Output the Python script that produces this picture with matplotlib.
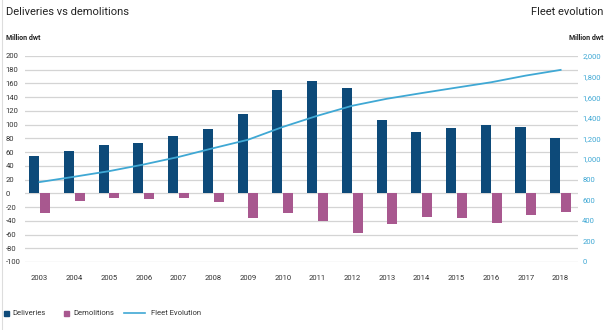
import matplotlib
matplotlib.use("Agg")
import matplotlib.pyplot as plt
import numpy as np

years = [str(y) for y in range(2003, 2019)]
deliveries = [55, 61, 71, 74, 83, 93, 116, 150, 163, 153, 107, 89, 95, 99, 97, 80]
demolitions = [-28, -11, -7, -8, -7, -12, -36, -28, -41, -58, -44, -34, -36, -43, -31, -27]
fleet = [776, 828, 882, 947, 1020, 1105, 1187, 1311, 1420, 1517, 1585, 1640, 1693, 1745, 1810, 1865]

left_ticks = list(range(-100, 201, 20))
right_ticks = list(range(0, 2001, 200))

navy = "#0d4a79"
pink = "#a8588f"
blue = "#3fa8d4"
txt = "#333333"

plt.rcParams['font.family'] = ['Liberation Sans Narrow', 'Roboto', 'DejaVu Sans']

W, H = 609, 330
fig = plt.figure(figsize=(W / 100, H / 100), dpi=100)
ax = fig.add_axes([25 / W, 1 - 262 / H, (578 - 25) / W, (262 - 56) / H])

x = np.arange(len(years))
bw = 0.29
ax.bar(x - bw / 2 - 0.01, deliveries, bw, color=navy, zorder=3)
ax.bar(x + bw / 2 + 0.01, demolitions, bw, color=pink, zorder=3)

ax.set_xlim(-0.42, 15.5)
ax.set_ylim(-100, 200)
ax.set_yticks(left_ticks)
ax.grid(axis="y", color="#d4d4d4", linewidth=0.9, zorder=0)
for s in ax.spines.values():
    s.set_visible(False)
ax.tick_params(length=0)
ax.set_xticks(x)
ax.set_xticklabels(years, fontsize=5.5, color=txt)
ax.tick_params(axis="x", pad=9)
ax.set_yticklabels([str(v) for v in left_ticks], fontsize=5.5, color=txt, ha="left")
ax.tick_params(axis="y", pad=14)

ax2 = ax.twinx()
ax2.set_ylim(0, 2000)
ax2.plot(x, fleet, color=blue, linewidth=1.3, zorder=4)
ax2.set_yticks(right_ticks)
ax2.set_yticklabels([f"{v:,}" for v in right_ticks], fontsize=5.5, color=blue)
ax2.tick_params(length=0, pad=3)
for s in ax2.spines.values():
    s.set_visible(False)

fig.text(6 / W, 1 - 12 / H, "Deliveries vs demolitions", fontsize=8, color="#222222", va="center")
fig.text(603 / W, 1 - 12 / H, "Fleet evolution", fontsize=8, color="#222222", va="center", ha="right")
fig.text(6 / W, 1 - 38 / H, "Million dwt", fontsize=5, fontweight="bold", color="#222222", va="center")
fig.text(603 / W, 1 - 38 / H, "Million dwt", fontsize=5, fontweight="bold", color="#222222", va="center", ha="right")

# legend
ly = 1 - 313 / H
fig.patches.append(plt.Rectangle((4 / W, ly - 2.5 / H), 5 / W, 5 / H, color=navy, transform=fig.transFigure))
fig.text(12 / W, ly, "Deliveries", fontsize=5.5, color=txt, va="center")
fig.patches.append(plt.Rectangle((64 / W, ly - 2.5 / H), 5 / W, 5 / H, color=pink, transform=fig.transFigure))
fig.text(73 / W, ly, "Demolitions", fontsize=5.5, color=txt, va="center")
fig.lines.append(plt.Line2D([124 / W, 145 / W], [ly, ly], color=blue, linewidth=1.2, transform=fig.transFigure))
fig.text(151 / W, ly, "Fleet Evolution", fontsize=5.5, color=txt, va="center")

# light frame at left edge
fig.lines.append(plt.Line2D([2 / W, 2 / W], [0, 1], color="#dddddd", linewidth=0.8, transform=fig.transFigure))

fig.savefig("out.png", dpi=100)
